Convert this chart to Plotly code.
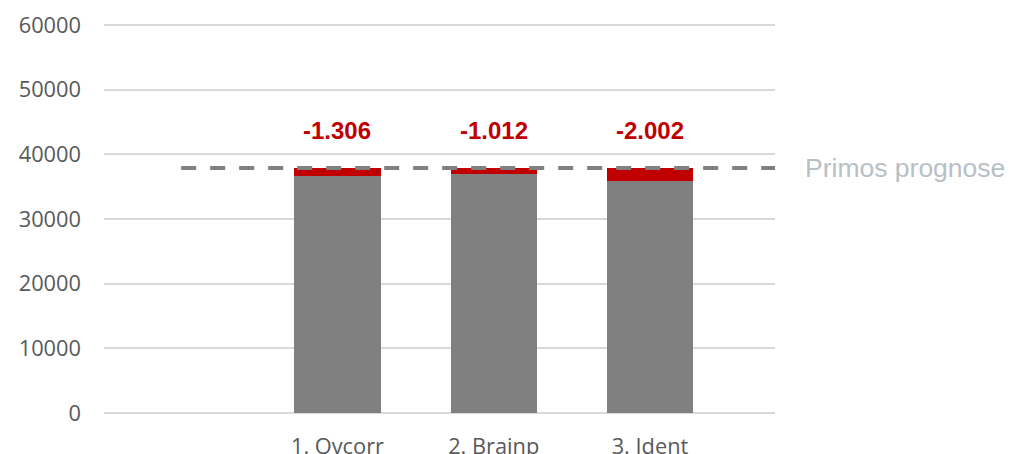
import plotly.graph_objects as go

# Category slots (first slot is an empty lead-in for the forecast line)
categories = ["", "1. Ovcorr", "2. Brainp", "3. Ident"]
bar_categories = ["1. Ovcorr", "2. Brainp", "3. Ident"]
prognose = 37900
deviation = [-1306, -1012, -2002]
deviation_labels = ["-1.306", "-1.012", "-2.002"]
remaining = [prognose + d for d in deviation]
gap = [-d for d in deviation]

y_ticks = [0, 10000, 20000, 30000, 40000, 50000, 60000]

GRAY = "#808080"
RED = "#C00000"
TICK_FONT = dict(family="Open Sans, sans-serif", size=21.8, color="#595959")

fig = go.Figure()

fig.add_trace(go.Bar(
    x=bar_categories, y=remaining, marker=dict(color=GRAY, line=dict(width=0)),
    width=0.553, showlegend=False, hoverinfo="skip",
))
fig.add_trace(go.Bar(
    x=bar_categories, y=gap, marker=dict(color=RED, line=dict(width=0)),
    width=0.553, showlegend=False, hoverinfo="skip",
))

# Deviation labels above each stacked bar
for cat, rest, g, label in zip(bar_categories, remaining, gap, deviation_labels):
    fig.add_annotation(
        x=cat, y=rest + g, xref="x", yref="y", text=f"<b>{label}</b>",
        showarrow=False, xanchor="center", yanchor="bottom", yshift=22,
        font=dict(family="Liberation Sans, Arial, sans-serif", size=24, color=RED),
    )

x_end = 3.80

# Forecast reference line
fig.add_shape(
    type="line", xref="x", yref="y", x0=0, x1=x_end, y0=prognose, y1=prognose,
    line=dict(color=GRAY, width=4, dash="15px,14px"), layer="above",
)
fig.add_annotation(
    x=x_end, y=prognose, xref="x", yref="y", text="Primos prognose",
    showarrow=False, xanchor="left", yanchor="middle", xshift=28,
    font=dict(family="Liberation Sans, Arial, sans-serif", size=26.5, color="#B7C0C4"),
)

y_top = 60000 * 395 / 388

fig.update_layout(
    width=1014, height=454,
    margin=dict(l=104, r=239, t=18, b=41),
    paper_bgcolor="white", plot_bgcolor="white",
    barmode="stack",
    xaxis=dict(
        type="category", categoryorder="array", categoryarray=categories,
        range=[-0.494, x_end], showgrid=False, zeroline=False, showline=False,
        tickfont=TICK_FONT, ticks="", ticklabelstandoff=18, automargin=False,
    ),
    yaxis=dict(
        range=[0, y_top], tickvals=y_ticks, ticktext=[str(v) for v in y_ticks],
        showgrid=True, gridcolor="#D9D9D9", gridwidth=1.5,
        zeroline=True, zerolinecolor="#D9D9D9", zerolinewidth=1.5,
        showline=False, tickfont=TICK_FONT, ticks="", ticklabelstandoff=22,
        automargin=False,
    ),
)

fig.write_html("out.html")
